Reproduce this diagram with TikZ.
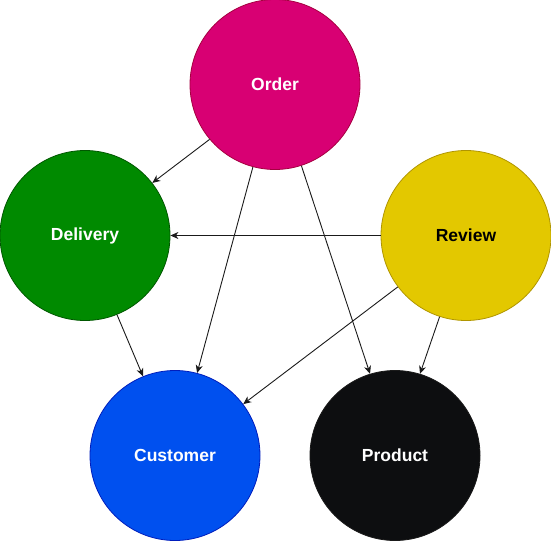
\documentclass[tikz,border=0pt]{standalone}
\usepackage{fontspec}
\setmainfont{Liberation Sans}
\usepackage{tikz}
\usetikzlibrary{arrows.meta}
\tikzset{>={Stealth[length=8pt,width=7pt,inset=2.5pt]}}
\definecolor{ordfill}{HTML}{D80073}\definecolor{orddraw}{HTML}{A50040}
\definecolor{delfill}{HTML}{008A00}\definecolor{deldraw}{HTML}{005700}
\definecolor{revfill}{HTML}{E3C800}\definecolor{revdraw}{HTML}{B09500}
\definecolor{cusfill}{HTML}{0050EF}\definecolor{cusdraw}{HTML}{001DBC}
\definecolor{profill}{HTML}{0D0E10}\definecolor{prodraw}{HTML}{1A1A1A}
\definecolor{edge}{HTML}{1A1A1A}

\begin{document}
\begin{tikzpicture}[x=1pt,y=-1pt,
  ent/.style={circle,minimum size=170pt,inner sep=0pt,line width=0.8pt,
    font=\fontsize{17.5}{20}\selectfont\bfseries},
  rel/.style={->,draw=edge,line width=0.9pt}]
\useasboundingbox (0,0) rectangle (551,541);
\node[ent,fill=ordfill,draw=orddraw,text=white] (order) at (275,84.5) {Order};
\node[ent,fill=delfill,draw=deldraw,text=white] (delivery) at (85,235.5) {Delivery};
\node[ent,fill=revfill,draw=revdraw,text=black] (review) at (466,235.5) {Review};
\node[ent,fill=cusfill,draw=cusdraw,text=white] (customer) at (175,455.5) {Customer};
\node[ent,fill=profill,draw=prodraw,text=white] (product) at (395,455.5) {Product};
% edges
\draw[rel] (order.220) -- (delivery.38);
\draw[rel] (order.255) -- (customer.75);
\draw[rel] (order.288) -- (product.107);
\draw[rel] (review.180) -- (delivery.0);
\draw[rel] (review.217) -- (customer.37);
\draw[rel] (review.252) -- (product.73);
\draw[rel] (delivery.292) -- (customer.112);
\end{tikzpicture}
\end{document}
